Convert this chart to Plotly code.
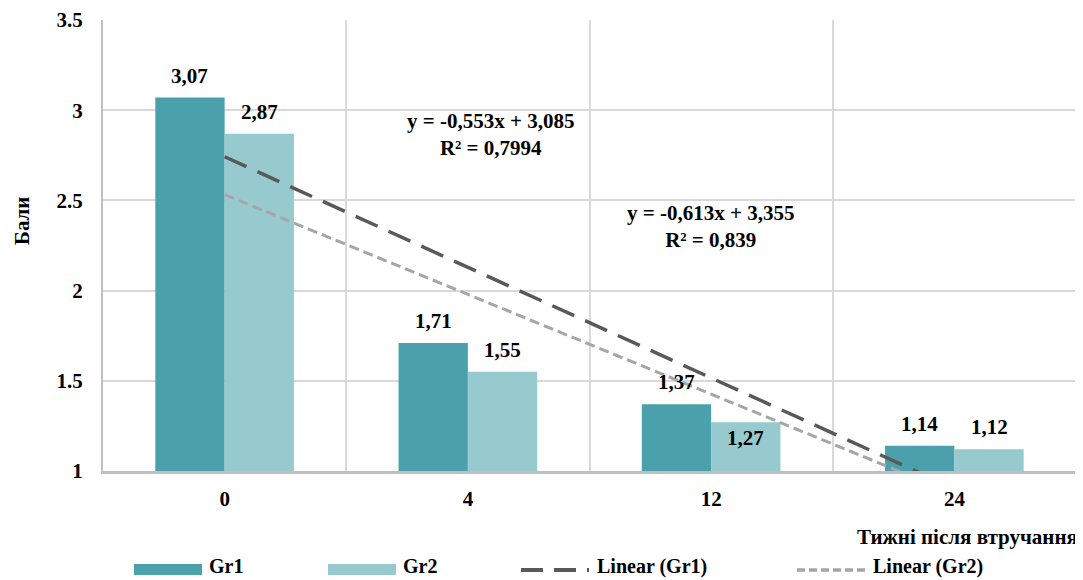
import numpy as np
import plotly.graph_objects as go

# ---- data ----
categories = ["0", "4", "12", "24"]
gr1 = [3.07, 1.71, 1.37, 1.14]
gr2 = [2.87, 1.55, 1.27, 1.12]
eq_gr1_text = "y = -0,613x + 3,355<br>R² = 0,839"
eq_gr2_text = "y = -0,553x + 3,085<br>R² = 0,7994"
y_ticks = [1, 1.5, 2, 2.5, 3, 3.5]
y_title = "Бали"
x_title = "Тижні після втручання"
legend_names = ["Gr1", "Gr2", "Linear (Gr1)", "Linear (Gr2)"]

# ---- style ----
C1 = "#4BA1AB"
C2 = "#97CACF"
CL1 = "#595959"
CL2 = "#A6A6A6"
GRID = "#D9D9D9"
FONT = '"Liberation Serif", "Times New Roman", Times, serif'
OFF = 8                      # page body margin
W, H = 1083 - OFF, 580 - OFF
L, R, T, B = 103, 1076, 20, 471   # plot area in page pixels
PW, PH = R - L, B - T
FS = 21

def px_x(px):
    return (px - L) / PW

def px_y(py):
    return (B - py) / PH

def fnt(size=FS):
    return dict(family=FONT, size=size, color="#000000", weight="bold")

def paper_text(x, y, text, xanchor="center", **kw):
    d = dict(x=px_x(x), y=px_y(y), xref="paper", yref="paper", text=text,
             xanchor=xanchor, yanchor="middle", showarrow=False, font=fnt())
    d.update(kw)
    return d

idx = np.arange(1, len(categories) + 1)
bw = 0.285

fig = go.Figure()
fig.add_trace(go.Bar(x=idx, y=gr1, name=legend_names[0],
                     marker=dict(color=C1, line=dict(width=0)), showlegend=False))
fig.add_trace(go.Bar(x=idx, y=gr2, name=legend_names[1],
                     marker=dict(color=C2, line=dict(width=0)), showlegend=False))

# linear trendlines (least squares fit, like the spreadsheet trendline)
k1, b1 = np.polyfit(idx, gr1, 1)
k2, b2 = np.polyfit(idx, gr2, 1)
xt = np.array([idx[0], idx[-1]], dtype=float)
fig.add_trace(go.Scatter(x=xt, y=k1 * xt + b1, mode="lines", showlegend=False,
                         line=dict(color=CL1, width=3.5, dash="24px,12px")))
fig.add_trace(go.Scatter(x=xt, y=k2 * xt + b2, mode="lines", showlegend=False,
                         line=dict(color=CL2, width=3, dash="10px,5px")))

ann = []
# data labels
for i, (v1, v2) in enumerate(zip(gr1, gr2)):
    ann.append(dict(x=idx[i] - bw / 2, y=v1, text=f"{v1:.2f}".replace(".", ","),
                    showarrow=False, yshift=22, font=fnt(), xref="x", yref="y",
                    xanchor="center", yanchor="middle"))
    shift2 = 22 if i != 2 else -16
    ann.append(dict(x=idx[i] + bw / 2, y=v2, text=f"{v2:.2f}".replace(".", ","),
                    showarrow=False, yshift=shift2, font=fnt(), xref="x", yref="y",
                    xanchor="center", yanchor="middle"))

# trendline equations
ann.append(paper_text(490, 134, eq_gr2_text, align="center"))
ann.append(paper_text(710, 226, eq_gr1_text, align="center"))

# axis titles
ann.append(paper_text(1080, 537, x_title, xanchor="right"))
ann.append(paper_text(22, 221, y_title, textangle=-90))

# manual legend
shapes = []
ly = 570
ty = 566
lf = fnt(20)
shapes.append(dict(type="rect", xref="paper", yref="paper", x0=px_x(134), x1=px_x(202),
                   y0=px_y(564), y1=px_y(575), fillcolor=C1, line=dict(width=0)))
ann.append(paper_text(207, ty, legend_names[0], xanchor="left", font=lf))
shapes.append(dict(type="rect", xref="paper", yref="paper", x0=px_x(328), x1=px_x(396),
                   y0=px_y(564), y1=px_y(575), fillcolor=C2, line=dict(width=0)))
ann.append(paper_text(401, ty, legend_names[1], xanchor="left", font=lf))
shapes.append(dict(type="line", xref="paper", yref="paper", x0=px_x(521), x1=px_x(589),
                   y0=px_y(ly), y1=px_y(ly), line=dict(color=CL1, width=4, dash="22px,11px")))
ann.append(paper_text(595, ty, legend_names[2], xanchor="left", font=lf))
shapes.append(dict(type="line", xref="paper", yref="paper", x0=px_x(797), x1=px_x(867),
                   y0=px_y(ly), y1=px_y(ly), line=dict(color=CL2, width=3.5, dash="8px,4px")))
ann.append(paper_text(871, ty, legend_names[3], xanchor="left", font=lf))

# right border of the plot area (category boundary)
shapes.append(dict(type="line", xref="x", yref="paper", x0=4.5, x1=4.5, y0=0, y1=1,
                   line=dict(color=GRID, width=1.5), layer="below"))

fig.update_layout(
    width=W, height=H,
    margin=dict(l=L - OFF, r=1083 - R, t=T - OFF, b=580 - B, pad=0, autoexpand=False),
    paper_bgcolor="white", plot_bgcolor="white",
    font=fnt(),
    barmode="group", bargap=0.43, bargroupgap=0,
    showlegend=False,
    annotations=ann, shapes=shapes,
    xaxis=dict(range=[0.5, 4.5], tickmode="array", tickvals=list(idx), ticktext=categories,
               automargin=False,
               showgrid=False, zeroline=False, showline=True, linecolor="#BFBFBF", linewidth=2.5,
               ticks="", ticklabelstandoff=7, tickfont=fnt(),
               minor=dict(tickmode="array", tickvals=[1.5, 2.5, 3.5, 4.5], showgrid=True,
                          gridcolor=GRID, gridwidth=1.5, ticks="")),
    yaxis=dict(range=[1, 3.5], tickmode="array", tickvals=y_ticks,
               ticktext=[str(t) for t in y_ticks], automargin=False,
               showgrid=True, gridcolor=GRID, gridwidth=1.5, zeroline=False,
               showline=True, linecolor="#BFBFBF", linewidth=2, ticks="", ticklabelstandoff=14,
               tickfont=fnt()),
)

fig.write_html("out.html")
